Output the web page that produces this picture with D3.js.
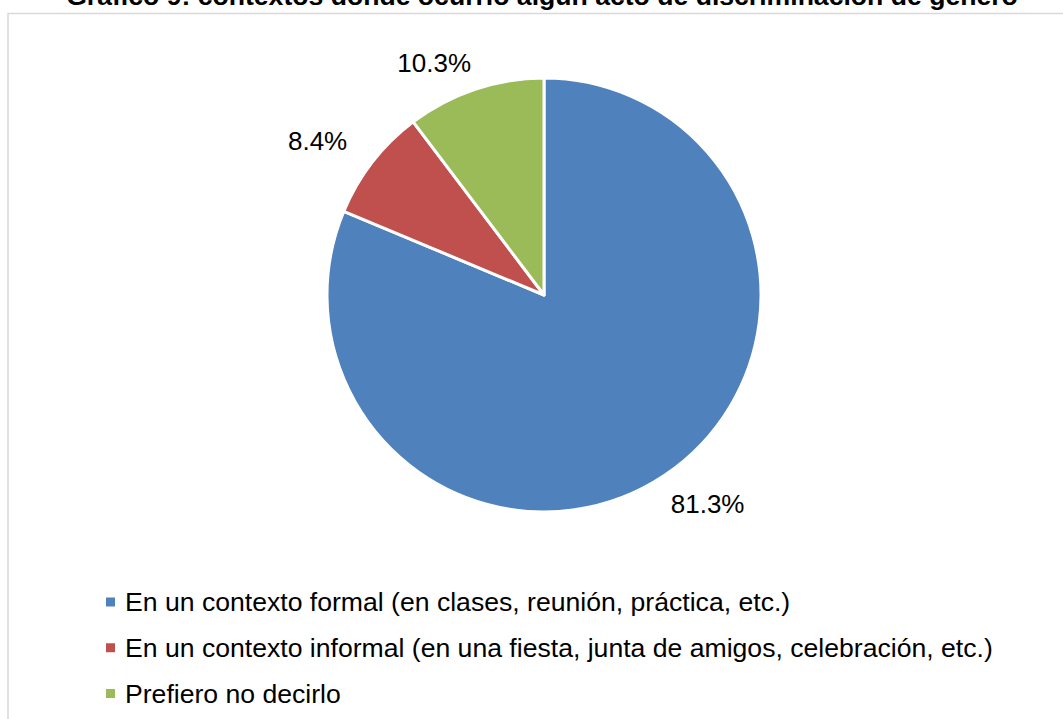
<!DOCTYPE html>
<html><head><meta charset="utf-8">
<script src="https://cdn.jsdelivr.net/npm/d3@7"></script>
<style>body{margin:0;background:#fff;}svg{display:block;font-family:"Liberation Sans",Arial,sans-serif;}</style>
</head><body>
<svg id="chart" width="1063" height="719"></svg>
<script>
const title = "Gráfico 9: contextos donde ocurrió algún acto de discriminación de género";
const categories = [
  "En un contexto formal (en clases, reunión, práctica, etc.)",
  "En un contexto informal (en una fiesta, junta de amigos, celebración, etc.)",
  "Prefiero no decirlo"
];
const values = [81.3, 8.4, 10.3];
const colors = ["#4f81bd", "#c0504d", "#9bbb59"];

const svg = d3.select("#chart");
const W = 1063, H = 719;

// frame
svg.append("path").attr("d", `M8,${H} L8,13.5 L${W},13.5`)
  .attr("fill","none").attr("stroke","#d9d9d9").attr("stroke-width",1.5);

// title
svg.append("text").attr("x", 542).attr("y", 5)
  .attr("text-anchor","middle").attr("font-weight","bold")
  .attr("font-size", 26.6).attr("fill","#000").text(title);

const cx = 544, cy = 295, R = 217;
const pie = d3.pie().sort(null).value(d => d)(values);
const arc = d3.arc().innerRadius(0).outerRadius(R);
const g = svg.append("g").attr("transform", `translate(${cx},${cy})`);
g.selectAll("path.slice").data(pie).join("path")
  .attr("class","slice")
  .attr("d", arc)
  .attr("fill", (d,i) => colors[i])
  .attr("stroke","#fff").attr("stroke-width",3).attr("stroke-linejoin","round");

// labels (best-fit style, outside the pie)
const LR = 251, minY = -232, push = 0.6, fs = 26;
g.selectAll("text.lbl").data(pie).join("text")
  .attr("class","lbl")
  .attr("text-anchor","middle")
  .attr("font-size", fs).attr("fill","#000")
  .text(d => d.data.toFixed(1) + "%")
  .each(function(d){
    const w = this.getComputedTextLength();
    const a = (d.startAngle + d.endAngle)/2;
    const ux = Math.sin(a), uy = -Math.cos(a);
    let x = LR*ux, y = LR*uy;
    if (y < minY) { y = minY; x = Math.sign(x) * Math.sqrt(LR*LR - y*y); }
    x += push*w*ux;
    d3.select(this).attr("x", x).attr("y", y + 0.358*fs);
  });

// legend
const ly = d3.scalePoint().domain(categories).range([602, 693.5]);
const lg = svg.append("g");
categories.forEach((c,i) => {
  lg.append("rect").attr("x",106).attr("y",ly(c)-4.5).attr("width",9).attr("height",9).attr("fill",colors[i]);
  lg.append("text").attr("x",125).attr("y",ly(c)+9.4)
    .attr("font-size",26.6).attr("fill","#000").text(c);
});
</script>
</body></html>
